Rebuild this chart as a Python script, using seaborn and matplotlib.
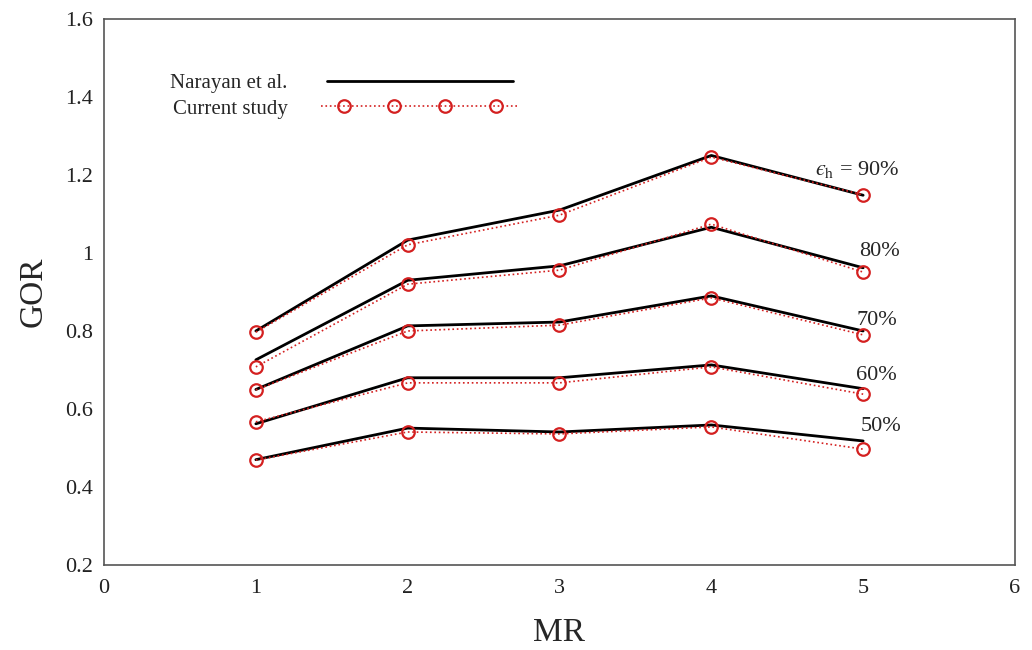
import matplotlib
matplotlib.use("Agg")
import matplotlib.pyplot as plt
from matplotlib.legend_handler import HandlerLine2DCompound
import numpy as np
import pandas as pd
import seaborn as sns

# Gain output ratio versus mass ratio for several humidifier effectiveness values
mr = [1, 2, 3, 4, 5]
effectiveness = ["50%", "60%", "70%", "80%", "90%"]

narayan = {
    "90%": [0.80, 1.033, 1.110, 1.250, 1.148],
    "80%": [0.726, 0.930, 0.967, 1.066, 0.962],
    "70%": [0.650, 0.813, 0.823, 0.890, 0.800],
    "60%": [0.562, 0.680, 0.680, 0.713, 0.652],
    "50%": [0.470, 0.551, 0.541, 0.559, 0.518],
}
current = {
    "90%": [0.797, 1.021, 1.097, 1.246, 1.149],
    "80%": [0.708, 0.920, 0.956, 1.074, 0.951],
    "70%": [0.649, 0.800, 0.815, 0.885, 0.790],
    "60%": [0.567, 0.667, 0.667, 0.708, 0.638],
    "50%": [0.469, 0.541, 0.536, 0.554, 0.497],
}

label_pos = {
    "90%": (4.96, 1.213),
    "80%": (5.11, 1.003),
    "70%": (5.09, 0.828),
    "60%": (5.09, 0.687),
    "50%": (5.12, 0.554),
}

rows = []
for eff in effectiveness:
    for x, a, b in zip(mr, narayan[eff], current[eff]):
        rows.append({"MR": x, "eff": eff, "Narayan": a, "Current": b})
df = pd.DataFrame(rows)


class InsetMarkerHandler(HandlerLine2DCompound):
    """Legend handle whose line spans the full handle while markers sit inset."""

    def create_artists(self, legend, orig_handle, xdescent, ydescent,
                       width, height, fontsize, trans):
        legline, legline_marker = super().create_artists(
            legend, orig_handle, xdescent, ydescent, width, height,
            fontsize, trans)
        n = len(legline.get_ydata())
        legline.set_xdata(np.linspace(-xdescent, width - xdescent, n))
        return [legline, legline_marker]


sns.set_style("white")
plt.rcParams["font.family"] = ["Liberation Serif", "DejaVu Serif"]
plt.rcParams["mathtext.fontset"] = "stix"

fig = plt.figure(figsize=(10.32, 6.5), dpi=100)
ax = fig.add_axes([0.1008, 0.1308, 0.8827, 0.84])

for i, eff in enumerate(effectiveness):
    sub = df[df["eff"] == eff]
    sns.lineplot(data=sub, x="MR", y="Narayan", ax=ax, color="black",
                 linewidth=2.0, label="Narayan et al." if i == 0 else None,
                 legend=False, zorder=2)
    sns.lineplot(data=sub, x="MR", y="Current", ax=ax, color="#d42020",
                 linewidth=1.2, linestyle=":", marker="o", markersize=9,
                 markerfacecolor="none", markeredgecolor="#d42020",
                 markeredgewidth=1.6,
                 label="Current study" if i == 0 else None,
                 legend=False, zorder=3)

for eff in effectiveness:
    tx, ty = label_pos[eff]
    text = "$\u03f5_\\mathrm{h}$ = " + eff if eff == "90%" else eff
    ax.text(tx, ty, text, fontsize=16, ha="center", va="center")

ax.set_xlim(0, 6)
ax.set_ylim(0.2, 1.6)
ax.set_xticks(range(0, 7))
ax.set_yticks([0.2, 0.4, 0.6, 0.8, 1.0, 1.2, 1.4, 1.6])
ax.set_yticklabels(["0.2", "0.4", "0.6", "0.8", "1", "1.2", "1.4", "1.6"])
ax.tick_params(axis="both", direction="in", length=6, width=1, labelsize=16,
               colors="#333333", labelcolor="#222222")
ax.tick_params(axis="x", pad=10)
ax.tick_params(axis="y", pad=8)
for s in ax.spines.values():
    s.set_color("#555555")
    s.set_linewidth(1.2)

ax.set_xlabel("MR", fontsize=24, labelpad=14)
ax.set_ylabel("GOR", fontsize=24, labelpad=12)

handles, labels = ax.get_legend_handles_labels()
leg = ax.legend(handles, labels, loc="upper left", bbox_to_anchor=(0.052, 0.935),
                frameon=False, markerfirst=False, handlelength=9.5,
                numpoints=4, fontsize=15, handletextpad=1.6,
                labelspacing=0.3,
                handler_map={handles[1]: InsetMarkerHandler(marker_pad=1.1,
                                                            numpoints=4)})

fig.savefig("out.png", dpi=100, facecolor="white")
